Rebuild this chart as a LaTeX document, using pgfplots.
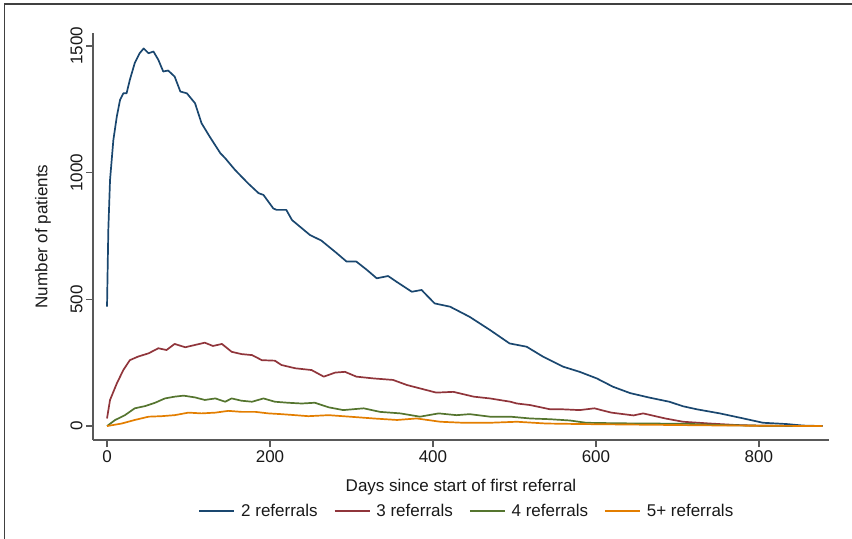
\documentclass[border=0pt]{standalone}
\usepackage{fontspec}
\setmainfont{Liberation Sans}
\usepackage{pgfplots}
\pgfplotsset{compat=1.18}
\usepackage{pgfplotstable}

\definecolor{snavy}{HTML}{1A476F}
\definecolor{smaroon}{HTML}{90353B}
\definecolor{sgreen}{HTML}{55752F}
\definecolor{sorange}{HTML}{E37E00}
\newcommand{\chartfont}{\fontsize{17bp}{20bp}\selectfont}

% days, number of patients
\pgfplotstableread{
d v
0 471
1.6 774
3.7 971
7.8 1129
12 1221
16 1287
20 1313
24 1313
28 1366
34 1432
40 1471
45 1490
51 1471
57 1478
63 1445
69 1399
75 1403
83 1379
90 1320
98 1313
108 1274
116 1195
126 1142
139 1077
145 1057
157 1011
173 958
186 919
192 912
204 859
208 853
220 853
227 813
249 754
263 732
282 682
294 649
306 649
319 616
331 583
345 592
355 570
374 530
386 537
402 484
421 471
445 431
470 379
494 326
515 313
535 274
560 234
580 214
601 188
621 155
642 130
666 112
690 96
707 78
724 66
752 50
781 30
805 13
834 8
854 2
878 0
}\refTwo

\pgfplotstableread{
d v
0 30
3.7 103
12 168
20 221
28 260
38 274
51 287
63 307
73 300
83 324
96 311
108 320
120 329
130 316
141 324
153 293
165 284
178 280
190 260
206 258
214 241
231 228
251 221
266 195
280 211
292 214
306 195
327 188
351 182
368 162
392 142
404 132
425 135
450 116
470 109
495 96
503 89
519 83
544 66
560 66
580 63
598 70
619 53
646 42
658 50
685 30
707 17
740 10
773 4
805 1
878 0
}\refThree

\pgfplotstableread{
d v
0 0
10 24
22 43
34 70
47 79
59 92
71 109
83 116
94 120
108 113
120 103
133 109
145 96
153 109
165 100
178 96
192 109
206 96
222 92
239 89
255 92
272 74
290 63
315 70
335 56
360 50
384 37
407 50
429 43
445 47
470 37
495 37
519 30
544 27
568 22
588 13
625 11
666 10
711 9
752 4
813 1
878 0
}\refFour

\pgfplotstableread{
d v
0 0
18 10
34 24
51 37
67 39
83 43
100 53
116 50
133 53
149 60
165 56
182 56
198 50
214 47
231 43
247 39
272 43
298 37
327 30
356 24
380 30
409 17
437 13
470 13
503 17
539 10
580 8
640 6
700 4
760 2
820 1
878 0
}\refFive

\begin{document}
\begin{tikzpicture}
\useasboundingbox (0,0) rectangle (852bp,539bp);
\draw[black!75, line width=1.2bp] (4.5bp,0) -- (4.5bp,535bp) -- (852bp,535bp);
\begin{axis}[
    at={(93bp,99bp)}, anchor=south west,
    scale only axis,
    width=736bp, height=407bp,
    xmin=-17.2, xmax=886,
    ymin=-55, ymax=1551,
    axis x line*=bottom, axis y line*=left,
    axis line style={-, black!65, line width=1.2bp},
    tick style={black!65, line width=1.2bp},
    tick align=outside,
    major tick length=7bp,
    xtick={0,200,400,600,800},
    ytick={0,500,1000,1500},
    /pgf/number format/1000 sep={},
    /pgf/number format/assume math mode=true,
    tick label style={font=\chartfont, black!90},
    yticklabel style={rotate=90, anchor=south},
    label style={font=\chartfont, black!90},
    xlabel={Days since start of first referral},
    ylabel={Number of patients},
    xlabel style={at={(axis description cs:0.5,-0.1155)}, anchor=center},
    ylabel style={at={(axis description cs:-0.068,0.5)}, anchor=center},
    legend columns=4,
    legend style={at={(0.508,-0.174)}, anchor=center, draw=none, fill=none,
        font=\chartfont, text=black!90,
        /tikz/every odd column/.append style={column sep=4bp},
        /tikz/every even column/.append style={column sep=14bp}},
    legend image code/.code={\draw[#1] (0bp,0bp) -- (35bp,0bp);},
    every axis plot/.append style={line width=1.7bp, line join=round},
]
\addplot[snavy] table[x=d, y=v] {\refTwo};
\addlegendentry{2 referrals}
\addplot[smaroon] table[x=d, y=v] {\refThree};
\addlegendentry{3 referrals}
\addplot[sgreen] table[x=d, y=v] {\refFour};
\addlegendentry{4 referrals}
\addplot[sorange] table[x=d, y=v] {\refFive};
\addlegendentry{5+ referrals}
\end{axis}
\end{tikzpicture}
\end{document}
